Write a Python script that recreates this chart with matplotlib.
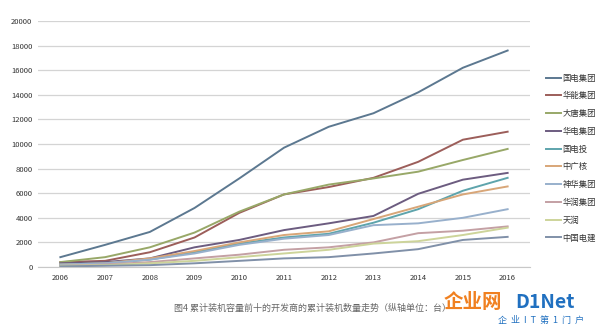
import matplotlib.pyplot as plt

plt.rcParams['font.family'] = ['Noto Sans CJK SC', 'DejaVu Sans']

years = ['2006', '2007', '2008', '2009', '2010', '2011', '2012', '2013', '2014', '2015', '2016']

names = ['国电集团', '华能集团', '大唐集团', '华电集团', '国电投', '中广核',
         '神华集团', '华润集团', '天润', '中国电建']

guodian = [800, 1800, 2850, 4800, 7200, 9700, 11400, 12500, 14200, 16200, 17600]
huaneng = [400, 500, 1200, 2400, 4400, 5900, 6500, 7250, 8550, 10350, 11000]
datang = [400, 800, 1600, 2800, 4500, 5900, 6700, 7200, 7750, 8700, 9600]
huadian = [300, 400, 700, 1600, 2200, 3000, 3550, 4150, 5950, 7100, 7650]
guodiantou = [200, 300, 600, 1200, 1900, 2400, 2700, 3600, 4700, 6200, 7250]
zhongguanghe = [200, 300, 700, 1300, 2000, 2600, 2900, 3900, 4900, 5900, 6550]
shenhua = [200, 300, 600, 1100, 1800, 2300, 2600, 3400, 3550, 4000, 4700]
huarun = [100, 200, 400, 700, 1000, 1400, 1600, 2000, 2750, 2950, 3300]
tianrun = [100, 150, 300, 500, 800, 1100, 1400, 1900, 2100, 2600, 3200]
dianjian = [50, 100, 150, 300, 500, 700, 800, 1100, 1450, 2200, 2450]

series = [guodian, huaneng, datang, huadian, guodiantou, zhongguanghe,
          shenhua, huarun, tianrun, dianjian]
colors = ['#5c7890', '#9c5e5a', '#98a868', '#6c5c80', '#5ea4ac', '#d8a678',
          '#98b0cc', '#c4a0a4', '#cdd49a', '#8090a8']

fig = plt.figure(figsize=(6, 3.27), dpi=100)
ax = fig.add_axes([38 / 600, 1 - 267 / 327, 492 / 600, 246 / 327])

x = list(range(len(years)))
for vals, name, c in zip(series, names, colors):
    ax.plot(x, vals, color=c, lw=1.4, label=name)

ax.set_xlim(-0.5, 10.5)
ax.set_ylim(0, 20000)
ax.set_yticks(range(0, 20001, 2000))
ax.set_xticks(x)
ax.set_xticklabels(years)
ax.tick_params(axis='both', labelsize=5.5, colors='#333333', length=0, pad=4)
ax.tick_params(axis='x', pad=5)
ax.grid(axis='y', color='#d4d4d4', lw=0.9)
ax.set_axisbelow(True)
for s in ['top', 'right', 'left']:
    ax.spines[s].set_visible(False)
ax.spines['bottom'].set_color('#c8c8c8')

leg = ax.legend(loc='upper left', bbox_to_anchor=(1.025, 0.80), frameon=False,
                fontsize=6, handlelength=1.8, handletextpad=0.2,
                labelspacing=1.05, borderaxespad=0)
for t in leg.get_texts():
    t.set_color('#333333')

fig.text(0.52, 1 - 308 / 327, '图4 累计装机容量前十的开发商的累计装机数量走势（纵轴单位：台）',
         ha='center', va='center', fontsize=6.5, color='#666666')

# watermark
fig.text(0.74, 1 - 302 / 327, '企业网', ha='left', va='center', fontsize=14,
         color='#f08020', fontweight='bold')
fig.text(0.858, 1 - 302 / 327, 'D1Net', ha='left', va='center', fontsize=14,
         color='#2070c0', fontweight='bold')
fig.text(0.83, 1 - 320 / 327, '企  业  I  T  第  1  门  户', ha='left', va='center',
         fontsize=6.5, color='#2070c0')

fig.savefig('out.png', dpi=100)
